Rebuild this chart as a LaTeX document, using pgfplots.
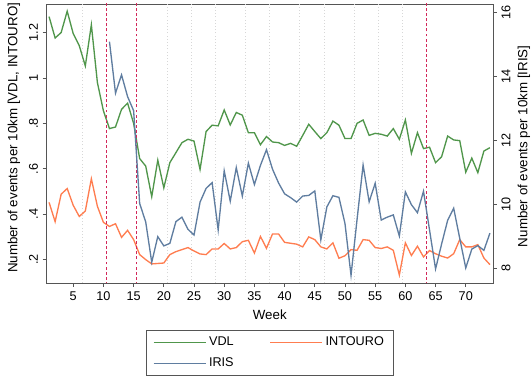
\documentclass[border=0pt]{standalone}
\usepackage{pgfplots}
\pgfplotsset{compat=1.18}
\usepackage{pgfplotstable}
\usepackage{fontspec}
\setmainfont{Liberation Sans}

\definecolor{vdl}{RGB}{80,150,75}
\definecolor{iris}{RGB}{95,125,160}
\definecolor{intouro}{RGB}{255,125,80}
\definecolor{redline}{RGB}{210,40,90}
\definecolor{framec}{RGB}{85,85,85}
\definecolor{gridc}{RGB}{215,215,215}

\pgfplotstableread{
week vdl intouro
1 1.270 0.452
2 1.176 0.367
3 1.200 0.488
4 1.294 0.513
5 1.195 0.439
6 1.142 0.390
7 1.053 0.414
8 1.234 0.556
9 0.980 0.435
10 0.855 0.364
11 0.777 0.346
12 0.784 0.358
13 0.862 0.298
14 0.889 0.329
15 0.800 0.288
16 0.645 0.222
17 0.612 0.200
18 0.477 0.181
19 0.638 0.183
20 0.516 0.185
21 0.627 0.222
22 0.671 0.235
23 0.715 0.244
24 0.730 0.253
25 0.722 0.238
26 0.597 0.225
27 0.764 0.222
28 0.792 0.247
29 0.789 0.247
30 0.859 0.271
31 0.793 0.247
32 0.848 0.253
33 0.836 0.279
34 0.759 0.285
35 0.759 0.229
36 0.706 0.302
37 0.742 0.250
38 0.718 0.313
39 0.715 0.313
40 0.703 0.276
41 0.712 0.272
42 0.699 0.268
43 0.747 0.256
44 0.796 0.300
45 0.764 0.288
46 0.733 0.256
47 0.759 0.247
48 0.810 0.274
49 0.792 0.206
50 0.733 0.217
51 0.733 0.244
52 0.800 0.241
53 0.815 0.288
54 0.747 0.285
55 0.756 0.253
56 0.752 0.249
57 0.744 0.256
58 0.777 0.241
59 0.730 0.132
60 0.815 0.274
61 0.668 0.218
62 0.759 0.259
63 0.689 0.212
64 0.695 0.240
65 0.627 0.226
66 0.653 0.215
67 0.744 0.207
68 0.727 0.226
69 0.724 0.288
70 0.585 0.256
71 0.647 0.256
72 0.583 0.266
73 0.678 0.207
74 0.693 0.178
}\leftdata

\pgfplotstableread{
week iris
11 15.09
12 13.48
13 14.05
14 13.37
15 12.93
16 10.03
17 9.45
18 8.19
19 8.99
20 8.70
21 8.78
22 9.46
23 9.60
24 9.22
25 9.04
26 10.07
27 10.50
28 10.68
29 9.20
30 11.05
31 10.10
32 11.15
33 10.26
34 11.29
35 10.62
36 11.22
37 11.71
38 11.10
39 10.67
40 10.33
41 10.21
42 10.07
43 10.26
44 10.28
45 10.42
46 8.89
47 9.92
48 10.27
49 10.22
50 9.40
51 7.78
52 9.53
53 11.23
54 10.08
55 10.66
56 9.51
57 9.60
58 9.67
59 9.01
60 10.39
61 9.99
62 9.74
63 10.41
64 9.20
65 7.98
66 8.76
67 9.50
68 9.88
69 8.94
70 8.01
71 8.60
72 8.71
73 8.56
74 9.10
}\irisdata

\newcommand{\fs}{\fontsize{9.5}{11}\selectfont}

\pgfplotsset{
  common/.style={
    at={(0,0)}, anchor=south west,
    scale only axis, width=334.7pt, height=209.3pt,
    xmin=0.6, xmax=74.5,
    tick align=outside,
    major tick length=3pt,
    axis line style={framec, line width=0.6pt},
    every tick/.style={framec, line width=0.6pt},
    tick label style={font=\fs, black},
    label style={font=\fs, black},
    /pgf/number format/assume math mode=true,
  },
}

\begin{document}
\begin{tikzpicture}
\useasboundingbox (-35pt,-71.25pt) rectangle (364pt,212.25pt);
\begin{axis}[
  common,
  ymin=0.097, ymax=1.326,
  xtick={5,10,...,70},
  xtick pos=bottom,
  ytick pos=left,
  ytick={0.2,0.4,0.6,0.8,1,1.2},
  yticklabels={.2,.4,.6,.8,1,1.2},
  yticklabel style={rotate=90, anchor=south},
  xlabel={Week},
  ylabel={Number of events per 10km [VDL, INTOURO]},
  every axis y label/.style={at={(axis description cs:0,0.52)}, xshift=-24.5pt, rotate=90, anchor=center},
  every axis x label/.style={at={(axis description cs:0.5,0)}, yshift=-24pt, anchor=center},
]
\addplot[gridc, line width=0.4pt, dotted, forget plot] coordinates {(6.5,0) (6.5,2)};
\addplot[gridc, line width=0.4pt, dotted, forget plot] coordinates {(20.5,0) (20.5,2)};
\addplot[gridc, line width=0.4pt, dotted, forget plot] coordinates {(24.5,0) (24.5,2)};
\addplot[gridc, line width=0.4pt, dotted, forget plot] coordinates {(28.5,0) (28.5,2)};
\addplot[gridc, line width=0.4pt, dotted, forget plot] coordinates {(33.5,0) (33.5,2)};
\addplot[gridc, line width=0.4pt, dotted, forget plot] coordinates {(37.5,0) (37.5,2)};
\addplot[gridc, line width=0.4pt, dotted, forget plot] coordinates {(42.5,0) (42.5,2)};
\addplot[gridc, line width=0.4pt, dotted, forget plot] coordinates {(46.5,0) (46.5,2)};
\addplot[gridc, line width=0.4pt, dotted, forget plot] coordinates {(51.5,0) (51.5,2)};
\addplot[gridc, line width=0.4pt, dotted, forget plot] coordinates {(55.5,0) (55.5,2)};
\addplot[gridc, line width=0.4pt, dotted, forget plot] coordinates {(59.5,0) (59.5,2)};
\addplot[vdl, line width=1pt] table[x=week, y=vdl] {\leftdata};
\addplot[intouro, line width=1pt] table[x=week, y=intouro] {\leftdata};
\addplot[redline, line width=1.1pt, dash pattern=on 2.2pt off 1.6pt, forget plot] coordinates {(10.5,0) (10.5,2)};
\addplot[redline, line width=1.1pt, dash pattern=on 2.2pt off 1.6pt, forget plot] coordinates {(15.5,0) (15.5,2)};
\addplot[redline, line width=1.1pt, dash pattern=on 2.2pt off 1.6pt, forget plot] coordinates {(63.5,0) (63.5,2)};
\end{axis}
\begin{axis}[
  common,
  ymin=7.54, ymax=16.27,
  axis x line=none,
  axis y line*=right,
  ytick={8,10,12,14,16},
  yticklabel style={rotate=90, anchor=north},
  ylabel={Number of events per 10km [IRIS]},
  every axis y label/.style={at={(axis description cs:1,0.49)}, xshift=23.25pt, rotate=90, anchor=center},
  legend columns=2,
  legend cell align=left,
  legend image code/.code={\draw[#1, line width=1pt] (0pt,0pt) -- (39pt,0pt);},
  legend style={at={(axis description cs:0.5,0)}, anchor=north, yshift=-35.25pt,
    draw=framec, line width=0.6pt, font=\fs, inner xsep=5pt, inner ysep=3pt,
    row sep=3.5pt,
    /tikz/every even column/.append style={column sep=25pt}},
]
\addlegendimage{vdl}
\addlegendentry{VDL}
\addlegendimage{intouro}
\addlegendentry{INTOURO}
\addplot[iris, line width=1pt] table[x=week, y=iris] {\irisdata};
\addlegendentry{IRIS}
\end{axis}
\end{tikzpicture}
\end{document}
